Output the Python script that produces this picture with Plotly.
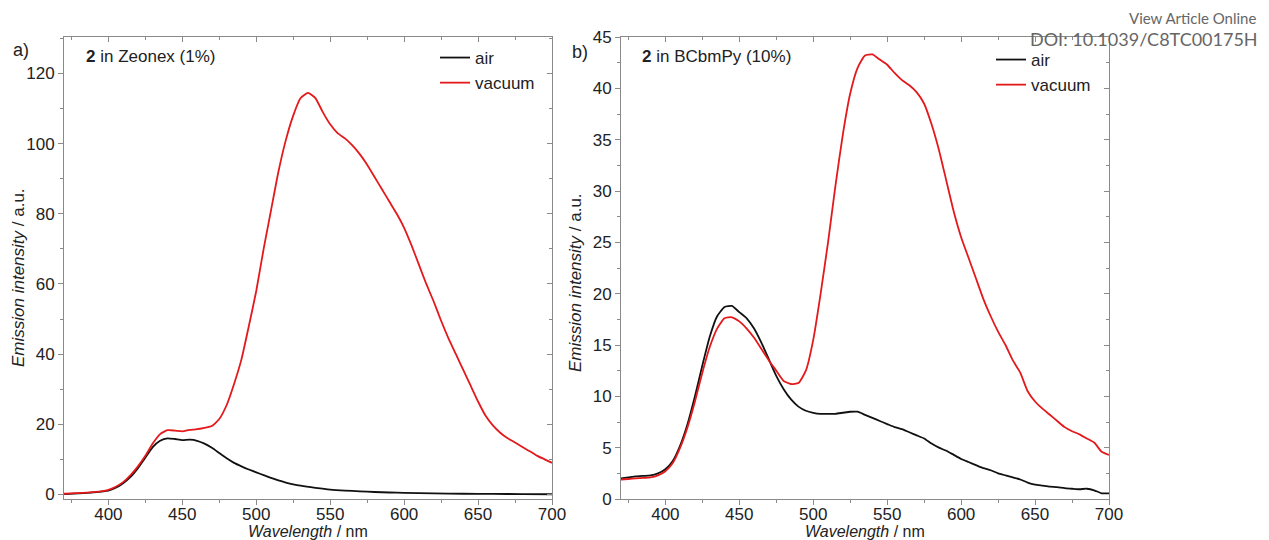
import plotly.graph_objects as go

# ---------------- data ----------------
wl_a_vac = [370, 375, 380, 385, 390, 395, 400, 405, 410, 415, 420, 425, 430, 435, 440, 445, 450, 455,
            460, 465, 470, 475, 480, 485, 490, 495, 500, 505, 510, 515, 520, 525, 530, 535, 540, 545,
            550, 555, 560, 565, 570, 575, 580, 585, 590, 595, 600, 605, 610, 615, 620, 625, 630, 635,
            640, 645, 650, 655, 660, 665, 670, 675, 680, 685, 690, 695, 700]
int_a_vac = [0.2, 0.3, 0.4, 0.5, 0.7, 0.9, 1.3, 2.2, 3.5, 5.5, 8.0, 11.0, 14.5, 17.2, 18.3, 18.2, 18.0, 18.4,
             18.6, 19.0, 19.5, 21.5, 25.5, 31.5, 38.5, 48, 58, 70, 81, 92, 101, 108, 113, 114.5, 113, 109,
             105.5, 103, 101.5, 99.5, 97, 94, 90.5, 87, 83.5, 80, 76, 71, 65.5, 60, 55, 49.5, 44.5, 40,
             35.5, 31, 26.5, 22.5, 19.7, 17.6, 16, 14.8, 13.5, 12.3, 11, 10, 9]

wl_a_air = [370, 380, 390, 400, 405, 410, 415, 420, 425, 430, 435, 440, 445, 450, 455, 460, 465, 470,
            475, 480, 485, 490, 495, 500, 505, 510, 515, 520, 525, 530, 540, 550, 560, 570, 580, 590,
            600, 620, 640, 660, 680, 700]
int_a_air = [0.1, 0.3, 0.6, 1.1, 1.9, 3.2, 5.0, 7.5, 10.5, 13.5, 15.3, 16.0, 15.8, 15.5, 15.6, 15.3, 14.5, 13.3,
             11.8, 10.3, 9.0, 8.0, 7.1, 6.3, 5.5, 4.7, 4.0, 3.4, 2.9, 2.5, 1.9, 1.4, 1.1, 0.9, 0.7, 0.55,
             0.45, 0.3, 0.2, 0.15, 0.1, 0.05]

wl_b = [370, 375, 380, 385, 390, 395, 400, 405, 410, 415, 420, 425, 430, 435, 440, 445, 450, 455,
        460, 465, 470, 475, 480, 485, 490, 495, 500, 505, 510, 515, 520, 525, 530, 535, 540, 545,
        550, 555, 560, 565, 570, 575, 580, 585, 590, 595, 600, 605, 610, 615, 620, 625, 630, 635,
        640, 645, 650, 655, 660, 665, 670, 675, 680, 685, 690, 695, 700]
int_b_vac = [1.9, 1.95, 2.0, 2.05, 2.1, 2.3, 2.7, 3.5, 5.0, 7.0, 9.5, 12.3, 14.8, 16.6, 17.6, 17.7, 17.3, 16.6,
             15.7, 14.6, 13.5, 12.5, 11.5, 11.2, 11.3, 12.5, 15.5, 20, 25, 30.5, 35.5, 39.5, 42, 43.2, 43.3, 42.8,
             42.3, 41.5, 40.8, 40.3, 39.6, 38.5, 36.5, 34, 31, 28, 25.5, 23.5, 21.5, 19.5, 17.8, 16.3, 15, 13.5,
             12.3, 10.5, 9.5, 8.8, 8.2, 7.6, 7.0, 6.6, 6.3, 5.9, 5.5, 4.6, 4.3]
int_b_air = [2.0, 2.1, 2.2, 2.25, 2.3, 2.5, 2.9, 3.7, 5.2, 7.3, 10.0, 13.0, 15.8, 17.8, 18.7, 18.8, 18.2, 17.6,
             16.6, 15.2, 13.6, 12.0, 10.7, 9.7, 9.0, 8.6, 8.4, 8.3, 8.3, 8.3, 8.4, 8.5, 8.5, 8.2, 7.9, 7.6,
             7.3, 7.0, 6.8, 6.5, 6.2, 5.9, 5.4, 5.0, 4.7, 4.3, 3.9, 3.6, 3.3, 3.0, 2.8, 2.5, 2.3, 2.1,
             1.9, 1.6, 1.4, 1.3, 1.2, 1.15, 1.05, 1.0, 0.95, 1.0, 0.85, 0.55, 0.55]

series_names = ["air", "vacuum"]
x_ticks = [400, 450, 500, 550, 600, 650, 700]
y_ticks_a = [0, 20, 40, 60, 80, 100, 120]
y_ticks_b = [0, 5, 10, 15, 20, 25, 30, 35, 40, 45]

# ---------------- styling ----------------
BLACK = "#111111"
RED = "#e3191c"
AXC = "#8a8a8a"
TXT = "#222222"
FONT = "Liberation Sans, Arial, sans-serif"
LW = 1.8

# page body has an 8px margin: figure is sized/placed to fill the 1269x540 window
OFF = 8
W, H = 1269 - OFF, 540 - OFF


def px(X):
    return (X - OFF) / W


def py(Y):
    return 1 - (Y - OFF) / H


fig = go.Figure()


def add_line(x, y, color, name, xa, ya, leg, show=True):
    fig.add_trace(go.Scatter(x=x, y=y, mode="lines", name=name,
                             line=dict(color=color, width=LW, shape="spline", smoothing=0.5),
                             xaxis=xa, yaxis=ya, legend=leg, showlegend=show,
                             hoverinfo="skip" if not show else None))


add_line(wl_a_air, int_a_air, BLACK, series_names[0], "x", "y", "legend")
add_line(wl_a_vac, int_a_vac, RED, series_names[1], "x", "y", "legend")
add_line(wl_b, int_b_air, BLACK, series_names[0], "x2", "y2", "legend2")
add_line(wl_b, int_b_vac, RED, series_names[1], "x2", "y2", "legend2")
# transparent copies so the mirrored (top/right) frame axes are drawn
add_line(wl_a_air, int_a_air, "rgba(0,0,0,0)", series_names[0], "x3", "y3", "legend", show=False)
add_line(wl_b, int_b_air, "rgba(0,0,0,0)", series_names[0], "x4", "y4", "legend2", show=False)

dom_a = [px(64), px(552)]
dom_b = [px(621), px(1109)]
dom_y = [py(499), py(37)]
xr = [370, 700]
yr_a = [-1.3, 130.4]
yr_b = [0, 45]

tickfont = dict(family=FONT, size=17, color=TXT)


def xax(domain, anchor):
    return dict(domain=domain, anchor=anchor, range=xr, tickmode="array", tickvals=x_ticks,
                ticks="outside", ticklen=5, tickcolor=AXC, showline=True, linecolor=AXC, linewidth=1,
                showgrid=False, zeroline=False, tickfont=tickfont, automargin=False,
                ticklabelstandoff=-5,
                minor=dict(dtick=25, tick0=375, ticks="outside", ticklen=3, tickcolor=AXC))


def xax_top(domain, anchor, over):
    return dict(domain=domain, anchor=anchor, overlaying=over, side="top", range=xr,
                tickmode="array", tickvals=x_ticks, ticks="inside", ticklen=5, tickcolor=AXC,
                showline=True, linecolor=AXC, linewidth=1, showticklabels=False, showgrid=False,
                zeroline=False, automargin=False,
                minor=dict(dtick=25, tick0=375, ticks="inside", ticklen=3, tickcolor=AXC))


def yax(anchor, yr, vals, mdt):
    return dict(domain=dom_y, anchor=anchor, range=yr, tickmode="array", tickvals=vals,
                ticks="outside", ticklen=5, tickcolor=AXC, showline=True, linecolor=AXC, linewidth=1,
                showgrid=False, zeroline=False, tickfont=tickfont, automargin=False,
                minor=dict(dtick=mdt, tick0=0, ticks="outside", ticklen=3, tickcolor=AXC))


def yax_right(anchor, over, yr, vals, mdt):
    return dict(domain=dom_y, anchor=anchor, overlaying=over, side="right", range=yr,
                tickmode="array", tickvals=vals, ticks="inside", ticklen=5, tickcolor=AXC,
                showline=True, linecolor=AXC, linewidth=1, showticklabels=False, showgrid=False,
                zeroline=False, automargin=False,
                minor=dict(dtick=mdt, tick0=0, ticks="inside", ticklen=3, tickcolor=AXC))


xt = "<i>Wavelength</i> / nm"
yt = "<i>Emission intensity</i> / a.u."

legend_common = dict(bgcolor="rgba(0,0,0,0)", borderwidth=0, font=dict(family=FONT, size=17, color=TXT),
                     tracegroupgap=0, itemwidth=30, xanchor="left", yanchor="top")

fig.update_layout(
    width=W, height=H,
    margin=dict(l=0, r=0, t=0, b=0, autoexpand=False),
    paper_bgcolor="white", plot_bgcolor="white",
    showlegend=True,
    xaxis=xax(dom_a, "y"),
    yaxis=yax("x", yr_a, y_ticks_a, 10),
    xaxis2=xax(dom_b, "y2"),
    yaxis2=yax("x2", yr_b, y_ticks_b, 2.5),
    xaxis3=xax_top(dom_a, "y3", "x"),
    yaxis3=yax_right("x3", "y", yr_a, y_ticks_a, 10),
    xaxis4=xax_top(dom_b, "y4", "x2"),
    yaxis4=yax_right("x4", "y2", yr_b, y_ticks_b, 2.5),
    legend=dict(x=px(435), y=py(40), **legend_common),
    legend2=dict(x=px(991), y=py(42), **legend_common),
)


def note(text, X, Y, size=17, xanchor="left", family=FONT, color=TXT, angle=0):
    fig.add_annotation(text=text, x=px(X), y=py(Y), xref="paper", yref="paper",
                       xanchor=xanchor, yanchor="middle", showarrow=False, textangle=angle,
                       font=dict(family=family, size=size, color=color))


note("a)", 11, 50, size=18)
note("b)", 570, 52, size=18)
note("<b>2</b> in Zeonex (1%)", 84, 56)
note("<b>2</b> in BCbmPy (10%)", 640, 57)
note(xt, 308, 531, size=16, xanchor="center")
note(xt, 865, 531, size=16, xanchor="center")
note(yt, 18, 278, xanchor="center", angle=-90)
note(yt, 575, 283, xanchor="center", angle=-90)
note("View Article Online", 1258, 18, size=15, xanchor="right",
     family="Lato, Open Sans, sans-serif", color="#666666")
note("DOI: 10.1039/C8TC00175H", 1260, 39, size=18, xanchor="right",
     family="Lato, Open Sans, sans-serif", color="#666666")

fig.write_html("out.html")
